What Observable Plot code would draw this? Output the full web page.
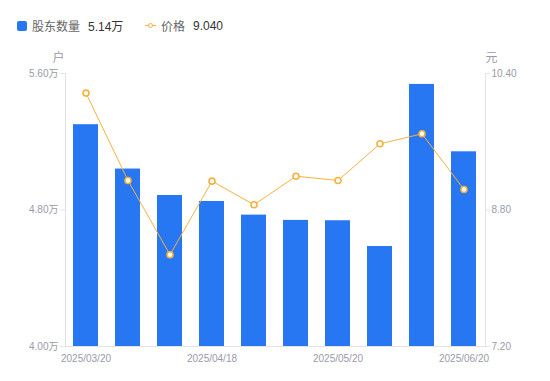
<!DOCTYPE html>
<html>
<head>
<meta charset="utf-8">
<script src="https://cdn.jsdelivr.net/npm/d3@7"></script>
<script src="https://cdn.jsdelivr.net/npm/@observablehq/plot@0.6"></script>
<style>
  html, body { margin: 0; padding: 0; background: #fff; }
  body { width: 550px; height: 381px; overflow: hidden; font-family: "Liberation Sans", "Noto Sans CJK SC", sans-serif; }
  #legend { height: 45px; position: relative; font-size: 12px; }
  .item { position: absolute; top: 17px; display: flex; align-items: center; white-space: nowrap; }
  .sq { width: 10px; height: 10px; border-radius: 2px; background: #2776F2; margin-right: 5px; }
  .ln { width: 11px; height: 10px; position: relative; margin-right: 5px; }
  .ln::before { content: ""; position: absolute; left: 0; right: 0; top: 4.5px; height: 1px; background: #F7B23B; }
  .ln::after { content: ""; position: absolute; left: 2.5px; top: 2px; width: 3px; height: 3px; border: 1.8px solid #F7B23B; border-radius: 50%; background: #fff; }
  .nm { color: #666; margin-right: 8px; }
  .vl { color: #333; }
  svg { display: block; }
</style>
</head>
<body>
<div id="legend">
  <div class="item" style="left:17px"><div class="sq"></div><span class="nm">股东数量</span><span class="vl">5.14万</span></div>
  <div class="item" style="left:145px"><div class="ln"></div><span class="nm">价格</span><span class="vl">9.040</span></div>
</div>
<div id="chart"></div>
<script>
const dates = ["2025/03/20","2025/03/31","2025/04/10","2025/04/18","2025/04/30","2025/05/09","2025/05/20","2025/05/30","2025/06/10","2025/06/20"];
const holders = [5.30, 5.04, 4.885, 4.85, 4.77, 4.739, 4.737, 4.586, 5.536, 5.141];
const prices = [10.17, 9.146, 8.275, 9.138, 8.861, 9.196, 9.146, 9.576, 9.693, 9.04];
const leftTicks = [4.00, 4.80, 5.60];
const rightTicks = [7.20, 8.80, 10.40];
const xTickLabels = ["2025/03/20","2025/04/18","2025/05/20","2025/06/20"];

const L0 = leftTicks[0], L1 = leftTicks[leftTicks.length-1];
const R0 = rightTicks[0], R1 = rightTicks[rightTicks.length-1];
const toLeft = p => L0 + (p - R0) / (R1 - R0) * (L1 - L0);
const fromLeft = v => R0 + (v - L0) / (L1 - L0) * (R1 - R0);

const data = dates.map((d, i) => ({date: d, h: holders[i], p: toLeft(prices[i])}));

const axisColor = "#9a9aa9";
const lineGray = "#e3e3e6";
const blue = "#2776F2";
const orange = "#F7B23B";

const axisLines = (index, scales, values, dims) => {
  const g = d3.create("svg:g").attr("stroke", lineGray).attr("stroke-width", 1);
  const x0 = dims.marginLeft + 0.5, x1 = dims.width - dims.marginRight + 0.5;
  const y0 = dims.marginTop, y1 = dims.height - dims.marginBottom + 0.5;
  g.append("line").attr("x1", x0).attr("x2", x0).attr("y1", y0).attr("y2", y1);
  g.append("line").attr("x1", x1).attr("x2", x1).attr("y1", y0).attr("y2", y1);
  g.append("line").attr("x1", x0).attr("x2", x1).attr("y1", y1).attr("y2", y1);
  return g.node();
};

const chart = Plot.plot({
  width: 550,
  height: 336,
  marginTop: 28,
  marginBottom: 35,
  marginLeft: 65,
  marginRight: 65,
  style: {fontFamily: "'Liberation Sans', 'Noto Sans CJK SC', sans-serif", fontSize: "10px", background: "#fff"},
  x: {type: "band", domain: dates, paddingInner: 0.4, paddingOuter: 0.2, label: null},
  y: {domain: [L0, L1], label: null},
  marks: [
    Plot.barY(data, {x: "date", y1: () => L0, y2: "h", fill: blue}),
    Plot.line(data, {x: "date", y: "p", stroke: orange, strokeWidth: 1}),
    Plot.dot(data, {x: "date", y: "p", r: 3, stroke: orange, strokeWidth: 1.6, fill: "#fff"}),
    axisLines,
    Plot.axisY(leftTicks, {anchor: "left", tickSize: 5, tickPadding: 2, stroke: lineGray, color: axisColor, tickFormat: d => d.toFixed(2) + "万", label: null}),
    Plot.axisY(rightTicks.map(toLeft), {anchor: "right", tickSize: 4, tickPadding: 2, stroke: lineGray, color: axisColor, tickFormat: d => fromLeft(d).toFixed(2), label: null}),
    Plot.axisX(xTickLabels, {anchor: "bottom", tickSize: 0, tickPadding: 8, color: axisColor, label: null}),
    Plot.text(["户"], {frameAnchor: "top-left", text: d => d, dx: -7, dy: -20, fill: axisColor, fontSize: 12, textAnchor: "middle"}),
    Plot.text(["元"], {frameAnchor: "top-right", text: d => d, dx: 6, dy: -20, fill: axisColor, fontSize: 12, textAnchor: "middle"})
  ]
});
document.getElementById("chart").appendChild(chart);
</script>
</body>
</html>
